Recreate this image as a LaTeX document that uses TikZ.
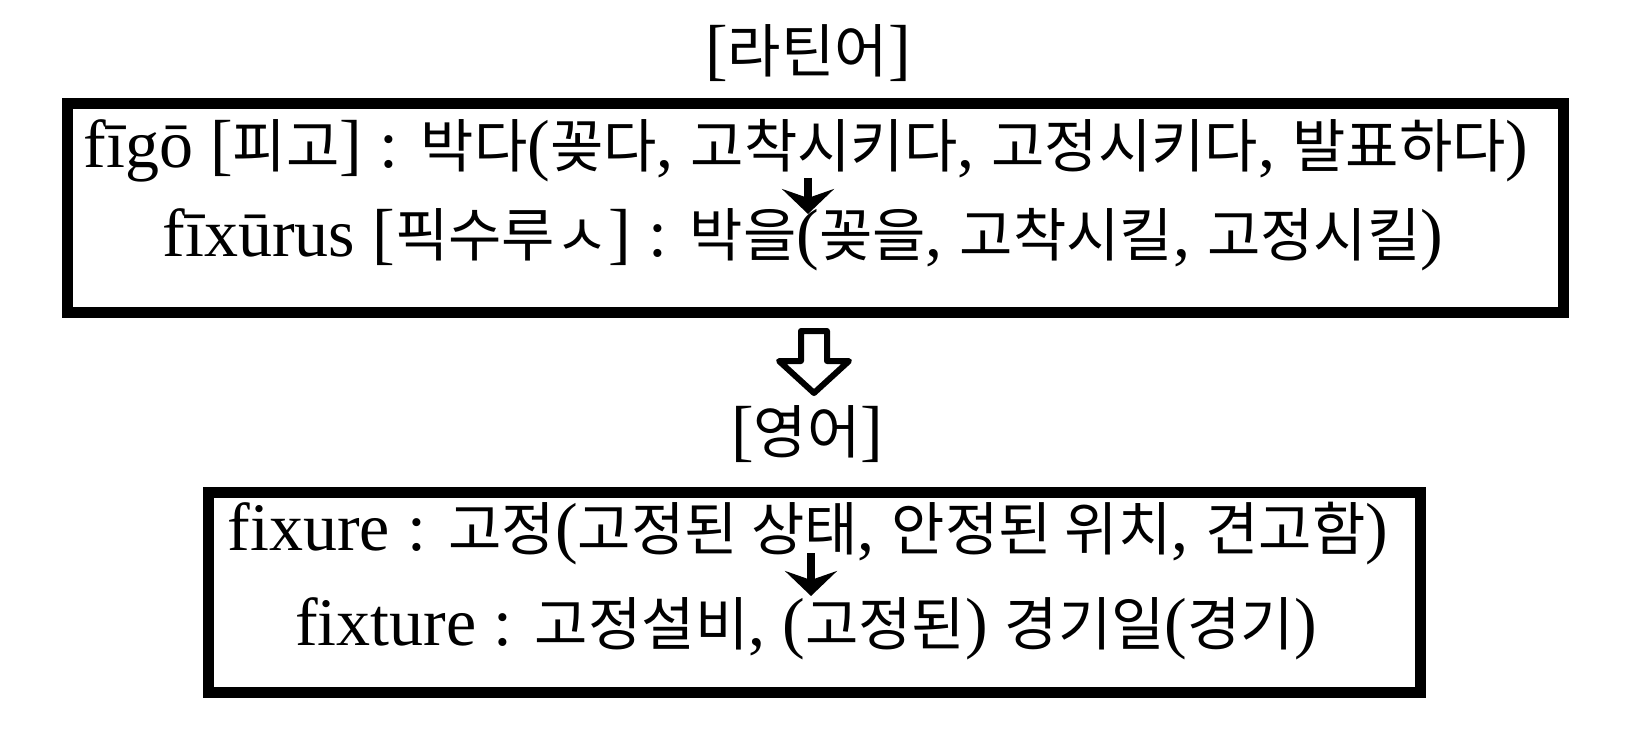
\documentclass[tikz,border=0pt]{standalone}
\usepackage{fontspec}
\setmainfont{Liberation Serif}
\newfontfamily\krfont{Noto Sans CJK KR}
\newcommand\K[1]{{\krfont\fontsize{58}{58}\selectfont #1}}
\usetikzlibrary{arrows.meta}
\tikzset{
  txt/.style={inner sep=0pt, font=\fontsize{68}{68}\selectfont, anchor=base},
  framebox/.style={draw=black, line width=11pt, inner sep=0pt},
  smallarrow/.style={line width=8pt, -{Stealth[length=25pt, width=52pt, inset=9pt]}},
  hollowarrow/.style={draw=black, line width=6pt, line join=round, fill=white}
}
\begin{document}
\begin{tikzpicture}[x=1pt,y=-1pt]
\useasboundingbox (0,0) rectangle (1649,735);
\fill[white] (0,0) rectangle (1649,735);

\node[txt] (t1) at (808,73) {[\K{라틴어}]};
\node[framebox, minimum width=1496pt, minimum height=209pt] (box1) at (815.5,208.5) {};
\node[txt] (la) at (806,168) {fīgō [\K{피고}] : \K{박다}(\K{꽂다}, \K{고착시키다}, \K{고정시키다}, \K{발표하다})};
\node[txt] (lb) at (803,257) {fīxūrus [\K{픽수루ㅅ}] : \K{박을}(\K{꽂을}, \K{고착시킬}, \K{고정시킬})};
\coordinate (a1s) at (808,178);
\coordinate (a1e) at (808,214);
\draw[smallarrow] (a1s) -- (a1e);

\draw[hollowarrow] (801,331) -- (827,331) -- (827,361) -- (849,361) -- (814,393) -- (779,361) -- (801,361) -- cycle;

\node[txt] (t2) at (807,453) {[\K{영어}]};
\node[framebox, minimum width=1212pt, minimum height=200pt] (box2) at (814,592.5) {};
\node[txt] (lc) at (808,550) {fixure : \K{고정}(\K{고정된 상태}, \K{안정된 위치}, \K{견고함})};
\node[txt] (ld) at (806,645) {fixture : \K{고정설비}, (\K{고정된}) \K{경기일}(\K{경기})};
\coordinate (a2s) at (811,553);
\coordinate (a2e) at (811,596);
\draw[smallarrow] (a2s) -- (a2e);
\end{tikzpicture}
\end{document}
